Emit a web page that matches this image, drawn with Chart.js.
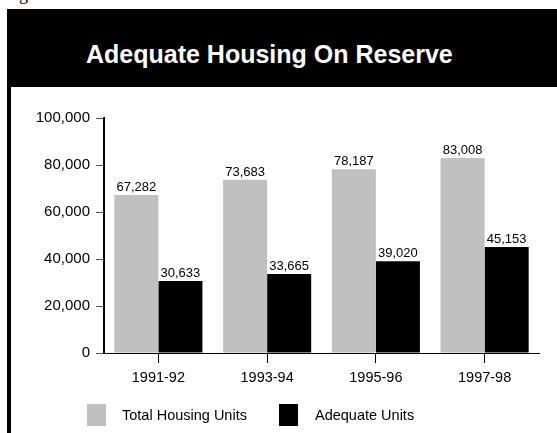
<!DOCTYPE html>
<html>
<head>
<meta charset="utf-8">
<script src="https://cdn.jsdelivr.net/npm/chart.js@4"></script>
<style>
    body { margin: 0; background: #fff; width: 557px; height: 433px; overflow: hidden; position: relative; }
    #frag { position: absolute; left: 19px; top: -15px; font: 18px/18px "Liberation Serif", serif; color: #000; }
    #header { position: absolute; left: 7px; top: 9px; width: 550px; height: 78px; background: #000; }
    #title { position: absolute; left: 86px; top: 42px; font: bold 25px/25px "Liberation Sans", Arial, sans-serif; color: #fff; white-space: nowrap; }
    #leftBorder { position: absolute; left: 7px; top: 87px; width: 4px; height: 346px; background: #000; }
    #chart { position: absolute; left: 0; top: 0; }
</style>
</head>
<body>
<div id="frag">g</div>
<div id="header"></div>
<div id="title">Adequate Housing On Reserve</div>
<div id="leftBorder"></div>
<canvas id="chart" width="557" height="433"></canvas>
<script>
var categories = ["1991-92", "1993-94", "1995-96", "1997-98"];
var totalUnits = [67282, 73683, 78187, 83008];
var adequateUnits = [30633, 33665, 39020, 45153];
var seriesNames = ["Total Housing Units", "Adequate Units"];
var yMin = 0, yMax = 100000, yStep = 20000;

var fontFamily = '"Liberation Sans", Arial, sans-serif';

function fmt(v) {
    return v.toLocaleString("en-US");
}

// value labels above each bar
var valueLabels = {
    id: "valueLabels",
    afterDatasetsDraw: function (chart) {
        var ctx = chart.ctx;
        ctx.save();
        ctx.font = "13px " + fontFamily;
        ctx.fillStyle = "#000";
        ctx.textAlign = "center";
        ctx.textBaseline = "bottom";
        chart.data.datasets.forEach(function (ds, i) {
            chart.getDatasetMeta(i).data.forEach(function (bar, j) {
                ctx.fillText(fmt(ds.data[j]), bar.x, bar.y - 1);
            });
        });
        ctx.restore();
    }
};

// legend drawn by hand, the builtin one cannot space box and text this way
var boxLegend = {
    id: "boxLegend",
    afterDraw: function (chart) {
        var ctx = chart.ctx;
        var items = [{ box: 87, text: 122 }, { box: 279, text: 315 }];
        ctx.save();
        ctx.font = "14.5px " + fontFamily;
        ctx.textBaseline = "middle";
        ctx.textAlign = "left";
        chart.data.datasets.forEach(function (ds, i) {
            ctx.fillStyle = ds.backgroundColor;
            ctx.fillRect(items[i].box, 404, 19, 22);
            ctx.fillStyle = "#000";
            ctx.fillText(ds.label, items[i].text, 416);
        });
        ctx.restore();
    }
};

var config = {
    type: "bar",
    data: {
        labels: categories,
        datasets: [{
            label: seriesNames[0],
            data: totalUnits,
            backgroundColor: "#c0c0c0",
            categoryPercentage: 0.81,
            barPercentage: 1.0
        }, {
            label: seriesNames[1],
            data: adequateUnits,
            backgroundColor: "#000000",
            categoryPercentage: 0.81,
            barPercentage: 1.0
        }]
    },
    options: {
        responsive: false,
        animation: false,
        layout: { padding: { top: 118, right: 18, bottom: 0, left: 0 } },
        plugins: {
            legend: { display: false },
            tooltip: { enabled: false }
        },
        scales: {
            x: {
                offset: true,
                grid: { offset: false, drawOnChartArea: false, tickLength: 10, color: "#000", lineWidth: 1 },
                border: { color: "#000", width: 1 },
                ticks: { color: "#000", padding: 6, font: { family: fontFamily, size: 14.5 } },
                afterFit: function (scale) { scale.height = 80; }
            },
            y: {
                min: yMin,
                max: yMax,
                grid: { drawOnChartArea: false, tickLength: 8, color: "#555", lineWidth: 1 },
                border: { color: "#000", width: 2 },
                ticks: {
                    stepSize: yStep,
                    color: "#000",
                    padding: 6,
                    font: { family: fontFamily, size: 15 },
                    callback: function (v) { return fmt(v); }
                },
                afterFit: function (scale) { scale.width = 104; }
            }
        }
    },
    plugins: [valueLabels, boxLegend]
};

new Chart(document.getElementById("chart").getContext("2d"), config);
</script>
</body>
</html>
